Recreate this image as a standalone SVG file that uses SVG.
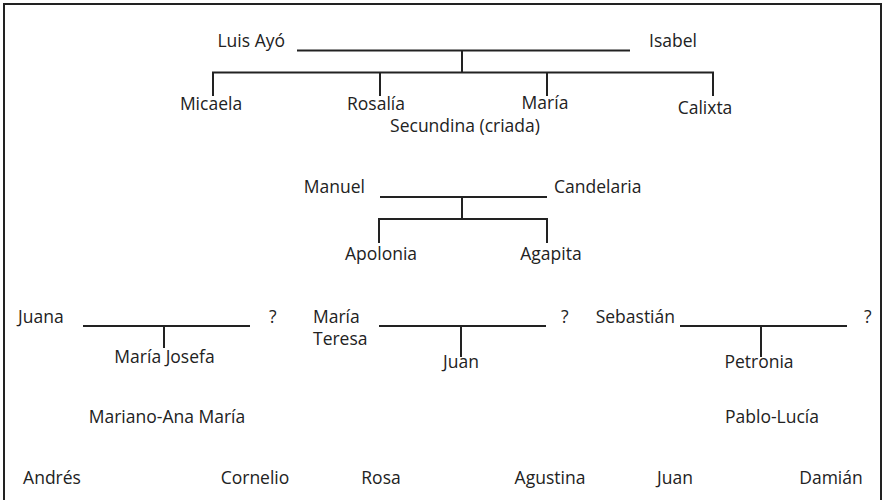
<svg xmlns="http://www.w3.org/2000/svg" width="885" height="500" viewBox="0 0 885 500">
<style>
text{font-family:"Open Sans","Noto Sans",sans-serif;font-size:17.5px;fill:#222}
.m{text-anchor:middle}
.e{text-anchor:end}
.c line{stroke:#222;stroke-width:2;fill:none}
</style>
<rect x="0" y="0" width="885" height="500" fill="#fff"/>
<path d="M4,502 V4 H881 V502" fill="none" stroke="#222" stroke-width="2"/>
<g class="c" id="connectors">
<line x1="297" y1="50.5" x2="630" y2="50.5"/>
<line x1="462" y1="50.5" x2="462" y2="72.5"/>
<line x1="212" y1="72.5" x2="714" y2="72.5"/>
<line x1="213" y1="72.5" x2="213" y2="96"/>
<line x1="380" y1="72.5" x2="380" y2="96"/>
<line x1="547" y1="72.5" x2="547" y2="96"/>
<line x1="713" y1="72.5" x2="713" y2="96"/>
<line x1="380" y1="197" x2="547" y2="197"/>
<line x1="462" y1="197" x2="462" y2="219"/>
<line x1="378" y1="219" x2="548" y2="219"/>
<line x1="379" y1="219" x2="379" y2="243"/>
<line x1="547" y1="219" x2="547" y2="243"/>
<line x1="83" y1="326" x2="250" y2="326"/>
<line x1="164" y1="326" x2="164" y2="348"/>
<line x1="379" y1="326" x2="546" y2="326"/>
<line x1="461" y1="326" x2="461" y2="357"/>
<line x1="680" y1="326" x2="847" y2="326"/>
<line x1="761" y1="326" x2="761" y2="357"/>
</g>
<g id="luis"><text class="e" x="285" y="47">Luis Ayó</text></g>
<g id="isabel"><text x="649" y="47">Isabel</text></g>
<g id="micaela"><text class="m" x="211" y="110">Micaela</text></g>
<g id="rosalia"><text class="m" x="376" y="110">Rosalía</text></g>
<g id="maria1"><text class="m" x="545" y="109">María</text></g>
<g id="calixta"><text class="m" x="705" y="114">Calixta</text></g>
<g id="secundina"><text class="m" x="465" y="132">Secundina (criada)</text></g>
<g id="manuel"><text class="e" x="365" y="193">Manuel</text></g>
<g id="candelaria"><text x="554" y="193">Candelaria</text></g>
<g id="apolonia"><text class="m" x="381" y="260">Apolonia</text></g>
<g id="agapita"><text class="m" x="551" y="260">Agapita</text></g>
<g id="juana"><text x="18" y="323">Juana</text></g>
<g id="q1"><text x="269" y="323">?</text></g>
<g id="mariajosefa"><text class="m" x="164.5" y="363">María Josefa</text></g>
<g id="mariateresa"><text x="313" y="323">María</text><text x="313" y="345">Teresa</text></g>
<g id="q2"><text x="561" y="323">?</text></g>
<g id="juan1"><text class="m" x="461" y="368">Juan</text></g>
<g id="sebastian"><text class="e" x="675" y="323">Sebastián</text></g>
<g id="q3"><text x="864" y="323">?</text></g>
<g id="petronia"><text class="m" x="759" y="368">Petronia</text></g>
<g id="marianoana"><text class="m" x="167" y="423">Mariano-Ana María</text></g>
<g id="pablolucia"><text class="m" x="772" y="423">Pablo-Lucía</text></g>
<g id="andres"><text class="m" x="52" y="484">Andrés</text></g>
<g id="cornelio"><text class="m" x="255" y="484">Cornelio</text></g>
<g id="rosa"><text class="m" x="381" y="484">Rosa</text></g>
<g id="agustina"><text class="m" x="550" y="484">Agustina</text></g>
<g id="juan2"><text class="m" x="675" y="484">Juan</text></g>
<g id="damian"><text class="m" x="831" y="484">Damián</text></g>
</svg>
